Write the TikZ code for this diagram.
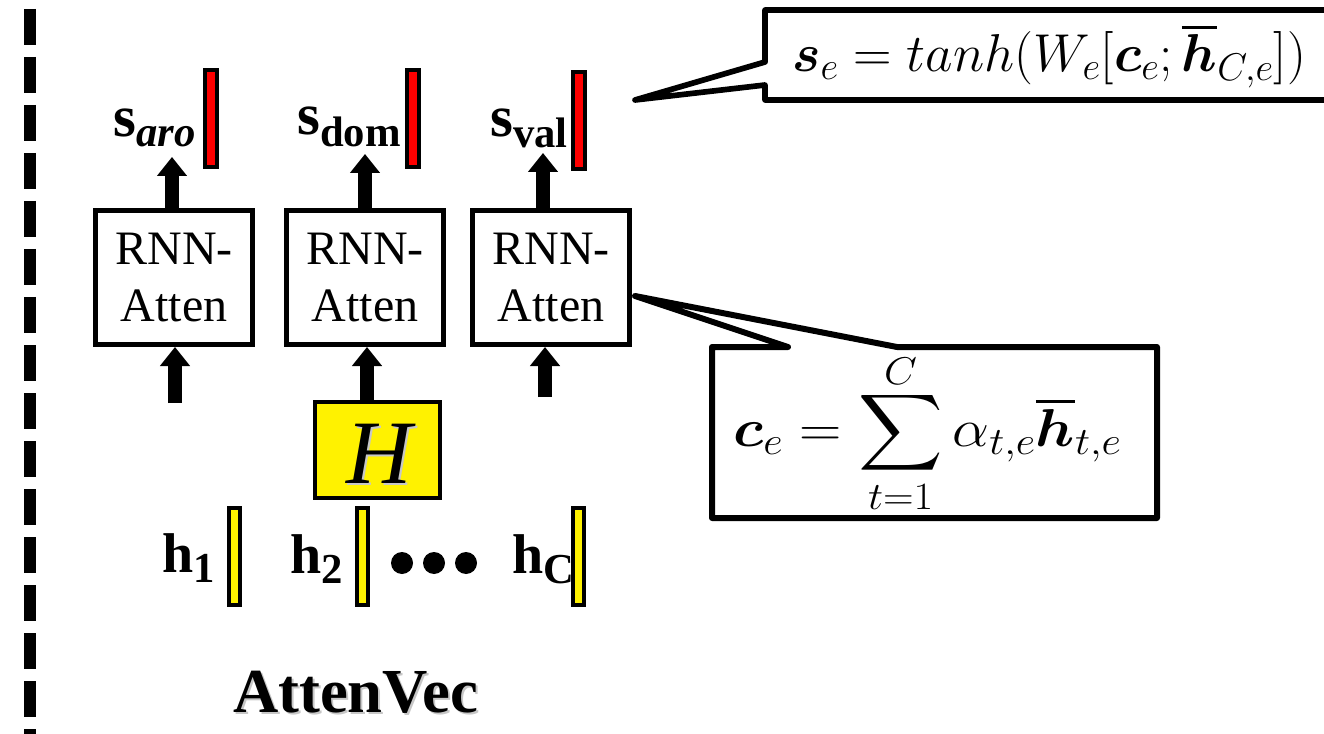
\RequirePackage{fix-cm}
\documentclass[tikz,border=0pt]{standalone}
\usepackage{amsmath,bm,graphicx}
\usepackage[no-math]{fontspec}
\setmainfont{Liberation Serif}
\usetikzlibrary{arrows.meta,calc}
\DeclareFontShape{OMX}{cmex}{m}{n}{<-> cmex10}{}
\DeclareMathSizes{40}{40}{29}{21}
\newcommand\bigfs[1]{\fontsize{#1}{#1}\selectfont}
\begin{document}
\begin{tikzpicture}[x=0.75pt,y=-0.75pt,
  rnnbox/.style={draw,line width=3.75pt,fill=white,minimum width=117.75pt,minimum height=100.5pt,inner sep=0pt,align=center,font=\fontsize{36}{43}\selectfont},
  redbar/.style={draw,line width=3pt,fill=red,minimum width=9pt,minimum height=72.75pt,inner sep=0pt},
  ylwbar/.style={draw,line width=3pt,fill=yellow,minimum width=8.25pt,minimum height=72.75pt,inner sep=0pt},
  blk/.style={line width=10.5pt,-{Triangle[width=21.75pt,length=14.25pt]}},
  callout/.style={draw,fill=white,line join=round},
  dotc/.style={circle,fill=black,minimum size=16.5pt,inner sep=0pt},
  lab/.style={anchor=base west,inner sep=0pt},
  formula/.style={anchor=base west,inner sep=0pt,font=\fontsize{40}{48}\selectfont},
  shadowtxt/.style={text=black!22},
]
\useasboundingbox (0,0) rectangle (1324,734);
\clip (0,0) rectangle (1324,734);

% separator
\draw[line width=9pt,dash pattern=on 27pt off 9pt] (30,9) -- (30,745);

% RNN boxes
\node[rnnbox] (rnn1) at (174,277.5) {RNN-\\Atten};
\node[rnnbox] (rnn2) at (365,277.5) {RNN-\\Atten};
\node[rnnbox] (rnn3) at (551,277.5) {RNN-\\Atten};

% red output vectors
\node[redbar] (r1) at (211,118.5) {};
\node[redbar] (r2) at (412.5,118.5) {};
\node[redbar] (r3) at (578.5,120.5) {};

% output labels
\node[lab] (saro) at (113,137) {\bigfs{44}\bfseries s\raisebox{-7.5pt}{\bigfs{32}\bfseries\itshape aro}};
\node[lab] (sdom) at (297,135) {\bigfs{44}\bfseries s\raisebox{-9pt}{\bigfs{32}\bfseries dom}};
\node[lab] (sval) at (490,137) {\bigfs{44}\bfseries s\raisebox{-8pt}{\bigfs{32}\bfseries val}};

% up arrows to outputs
\coordinate (u1) at (172,157);
\coordinate (u2) at (365,154);
\coordinate (u3) at (543,153);
\draw[blk] (rnn1.north -| u1) -- (u1);
\draw[blk] (rnn2.north -| u2) -- (u2);
\draw[blk] (rnn3.north -| u3) -- (u3);

% H box
\node[draw,line width=3pt,fill=yellow,minimum width=93.75pt,minimum height=72pt,inner sep=0pt] (H) at (377.5,450) {};
\node[shadowtxt,font=\bigfs{68}\itshape] (Hsh) at (381,455.5) {H};
\node[font=\bigfs{68}\itshape] (Htxt) at (379,453.5) {H};

% input arrows
\coordinate (d1) at (175,403);
\coordinate (d2) at (367,400);
\coordinate (d3) at (545,397);
\draw[blk] (d1) -- (d1 |- rnn1.south);
\draw[blk] (H.north -| d2) -- (d2 |- rnn2.south);
\draw[blk] (d3) -- (d3 |- rnn3.south);

% hidden vectors
\node[ylwbar] (y1) at (234.5,556.5) {};
\node[ylwbar] (y2) at (362.5,556.5) {};
\node[ylwbar] (y3) at (578.5,556.5) {};
\node[lab] (h1) at (162,572) {\bigfs{42}\bfseries h\raisebox{-7.5pt}{\bigfs{32}\bfseries 1}};
\node[lab] (h2) at (290,573) {\bigfs{42}\bfseries h\raisebox{-7.5pt}{\bigfs{32}\bfseries 2}};
\node[lab] (hC) at (512,573) {\bigfs{42}\bfseries h\raisebox{-7.5pt}{\bigfs{32}\bfseries C}};
\node[dotc] (dt1) at (402,563) {};
\node[dotc] (dt2) at (434,563) {};
\node[dotc] (dt3) at (466,563) {};

% title
\node[shadowtxt,anchor=base,inner sep=0pt,font=\bigfs{47}\bfseries] (titlesh) at (357.5,714) {AttenVec};
\node[anchor=base,inner sep=0pt,font=\bigfs{47}\bfseries] (title) at (355.5,712) {AttenVec};

% callout 1
\coordinate (tip1) at (635,100);
\draw[callout,line width=4.25pt] (765,62) -- (765,10) -- (1345,10) -- (1345,100) -- (765,100) -- (765,85) -- (tip1) -- cycle;
\node[formula] (f1) at (792,72) {$\bm{s}_e = tanh(W_e[\bm{c}_e;\overline{\bm{h}}_{C,e}])$};

% callout 2
\coordinate (tip2) at (635,296);
\draw[callout,line width=4.5pt] (712,347) -- (788,347) -- (tip2) -- (897,347) -- (1157,347) -- (1157,518) -- (712,518) -- cycle;
\node[formula] (f2) at (733,446) {\scalebox{1.1}[1]{$\displaystyle \bm{c}_e = \sum_{t=1}^{\raisebox{-5pt}{$\scriptstyle C$}}\alpha_{t,e}\overline{\bm{h}}_{t,e}$}};
\end{tikzpicture}
\end{document}
